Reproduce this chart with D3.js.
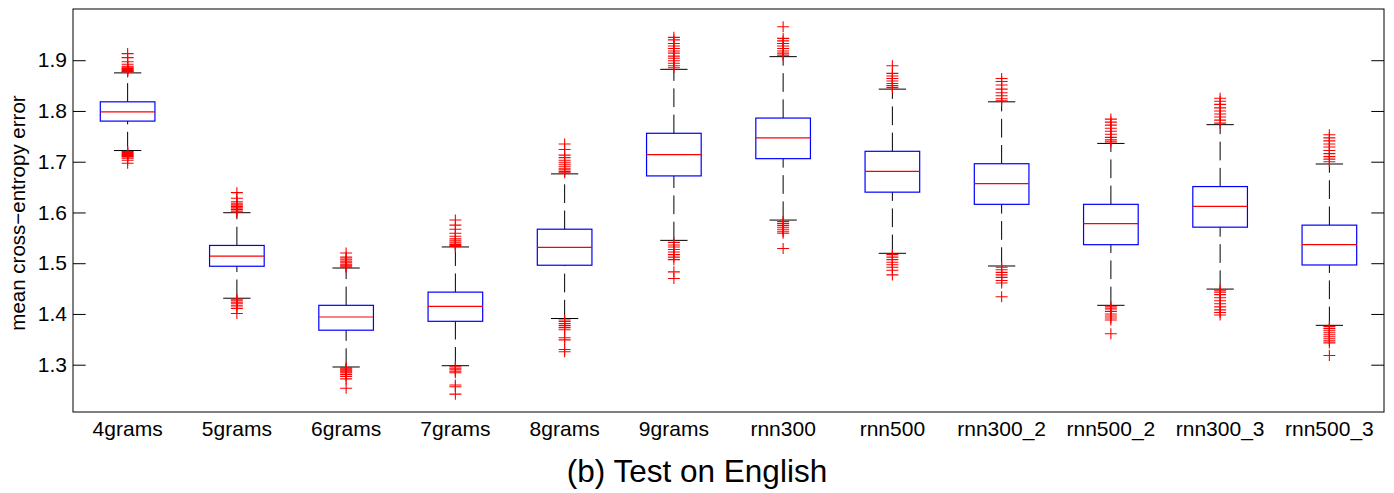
<!DOCTYPE html>
<html>
<head>
<meta charset="utf-8">
<script src="https://cdn.jsdelivr.net/npm/d3@7/dist/d3.min.js"></script>
<style>
  html, body { margin: 0; padding: 0; background: #fff; }
  svg { display: block; font-family: "Liberation Sans", Arial, Helvetica, sans-serif; }
</style>
</head>
<body>
<svg id="chart" width="1394" height="493"></svg>
<script>
// Model names along the x axis
const categories = ["4grams", "5grams", "6grams", "7grams", "8grams", "9grams",
                    "rnn300", "rnn500", "rnn300_2", "rnn500_2", "rnn300_3", "rnn500_3"];

// Box statistics (mean cross-entropy error)
const q1      = [1.780, 1.494, 1.368, 1.3855, 1.496, 1.672, 1.706, 1.640, 1.616, 1.5365, 1.571, 1.4965];
const medians = [1.798, 1.514, 1.394, 1.415, 1.531, 1.714, 1.747, 1.681, 1.657, 1.578, 1.612, 1.5365];
const q3      = [1.818, 1.535, 1.417, 1.443, 1.567, 1.756, 1.786, 1.7205, 1.696, 1.616, 1.651, 1.575];
const whiskerLow  = [1.722, 1.431, 1.2955, 1.298, 1.391, 1.545, 1.585, 1.5195, 1.4945, 1.417, 1.449, 1.3776];
const whiskerHigh = [1.875, 1.5995, 1.4905, 1.532, 1.676, 1.882, 1.907, 1.843, 1.818, 1.736, 1.773, 1.6955];

// Outlying points per model
const outliers = [
  [1.913, 1.905, 1.897, 1.892, 1.888, 1.886, 1.884, 1.882, 1.880, 1.878, 1.877,
   1.720, 1.718, 1.716, 1.714, 1.712, 1.710, 1.707, 1.703, 1.697],
  [1.639, 1.628, 1.621, 1.618, 1.615, 1.612, 1.609, 1.606, 1.603, 1.601,
   1.429, 1.426, 1.423, 1.420, 1.416, 1.411, 1.401],
  [1.520, 1.512, 1.508, 1.504, 1.501, 1.498, 1.496, 1.494, 1.492,
   1.294, 1.292, 1.290, 1.288, 1.286, 1.284, 1.281, 1.277, 1.272, 1.2535],
  [1.585, 1.575, 1.567, 1.559, 1.553, 1.548, 1.544, 1.540, 1.537, 1.535, 1.533,
   1.296, 1.293, 1.290, 1.287, 1.284, 1.260, 1.2567, 1.242],
  [1.735, 1.724, 1.713, 1.708, 1.703, 1.699, 1.695, 1.691, 1.687, 1.684, 1.681, 1.678,
   1.388, 1.385, 1.381, 1.377, 1.373, 1.369, 1.353, 1.349, 1.330, 1.3256],
  [1.945, 1.940, 1.933, 1.928, 1.923, 1.918, 1.914, 1.908, 1.904, 1.899, 1.894, 1.889, 1.885,
   1.541, 1.536, 1.532, 1.527, 1.522, 1.517, 1.512, 1.507, 1.483, 1.470],
  [1.966, 1.943, 1.938, 1.933, 1.928, 1.923, 1.918, 1.914, 1.910,
   1.582, 1.578, 1.574, 1.570, 1.566, 1.562, 1.559, 1.529],
  [1.889, 1.874, 1.869, 1.864, 1.859, 1.854, 1.850, 1.846,
   1.517, 1.512, 1.507, 1.502, 1.497, 1.492, 1.486, 1.477],
  [1.864, 1.858, 1.851, 1.843, 1.836, 1.830, 1.824, 1.820,
   1.492, 1.487, 1.482, 1.477, 1.472, 1.466, 1.461, 1.434],
  [1.784, 1.778, 1.772, 1.766, 1.760, 1.754, 1.748, 1.743, 1.739,
   1.414, 1.410, 1.405, 1.400, 1.396, 1.392, 1.388, 1.361],
  [1.825, 1.819, 1.813, 1.806, 1.800, 1.794, 1.788, 1.782, 1.776,
   1.447, 1.443, 1.438, 1.432, 1.426, 1.420, 1.414, 1.408, 1.403, 1.398],
  [1.753, 1.747, 1.741, 1.735, 1.729, 1.722, 1.716, 1.710, 1.705, 1.700,
   1.375, 1.371, 1.367, 1.363, 1.359, 1.355, 1.351, 1.347, 1.343, 1.318]
];

const yTicks = [1.3, 1.4, 1.5, 1.6, 1.7, 1.8, 1.9];
const yDomain = [1.2068, 2.0009];
const yLabel = "mean cross\u2212entropy error";
const title = "(b) Test on English";

const svg = d3.select("#chart");
const plot = { left: 73, right: 1384, top: 9, bottom: 412 };
const fontStack = "'Liberation Sans', Arial, Helvetica, sans-serif";

const x = d3.scaleBand().domain(categories).range([plot.left, plot.right]).padding(0);
const y = d3.scaleLinear().domain(yDomain).range([plot.bottom, plot.top]);

const bw = x.bandwidth();
const boxW = bw * 0.5;
const capW = bw * 0.25;
const tickLen = 12.7;

const rows = categories.map((c, i) => ({
  c, q1: q1[i], med: medians[i], q3: q3[i],
  lo: whiskerLow[i], hi: whiskerHigh[i], out: outliers[i]
}));

const cx = d => x(d.c) + bw / 2;

const g = svg.append("g");

// Whiskers: dashed lines drawn upward from the lower value
const dash = "18.7,7.5";
g.selectAll(".wlo").data(rows).join("line")
  .attr("x1", cx).attr("x2", cx)
  .attr("y1", d => y(d.lo)).attr("y2", d => y(d.q1))
  .attr("stroke", "#000").attr("stroke-width", 1).attr("stroke-dasharray", dash);
g.selectAll(".whi").data(rows).join("line")
  .attr("x1", cx).attr("x2", cx)
  .attr("y1", d => y(d.q3)).attr("y2", d => y(d.hi))
  .attr("stroke", "#000").attr("stroke-width", 1).attr("stroke-dasharray", dash);

// Whisker caps
["lo", "hi"].forEach(k => {
  g.selectAll(".cap-" + k).data(rows).join("line")
    .attr("x1", d => cx(d) - capW / 2).attr("x2", d => cx(d) + capW / 2)
    .attr("y1", d => y(d[k])).attr("y2", d => y(d[k]))
    .attr("stroke", "#000").attr("stroke-width", 1);
});

// Boxes
g.selectAll(".box").data(rows).join("rect")
  .attr("x", d => cx(d) - boxW / 2)
  .attr("width", boxW)
  .attr("y", d => y(d.q3))
  .attr("height", d => y(d.q1) - y(d.q3))
  .attr("fill", "none").attr("stroke", "#0000ff").attr("stroke-width", 1.2);

// Medians
g.selectAll(".med").data(rows).join("line")
  .attr("x1", d => cx(d) - boxW / 2).attr("x2", d => cx(d) + boxW / 2)
  .attr("y1", d => y(d.med)).attr("y2", d => y(d.med))
  .attr("stroke", "#ff0000").attr("stroke-width", 1.2);

// Outlier '+' markers
const pts = rows.flatMap(d => d.out.map(v => ({ x: cx(d), v })));
g.selectAll(".out").data(pts).join("path")
  .attr("d", p => `M${p.x - 6},${y(p.v)}H${p.x + 6}M${p.x},${y(p.v) - 5.5}V${y(p.v) + 5.5}`)
  .attr("stroke", "#ff0000").attr("stroke-width", 1.1).attr("fill", "none");

// Frame
svg.append("rect")
  .attr("x", plot.left).attr("y", plot.top)
  .attr("width", plot.right - plot.left).attr("height", plot.bottom - plot.top)
  .attr("fill", "none").attr("stroke", "#000").attr("stroke-width", 1);

// Y axis (ticks point inward) plus mirrored ticks on the right edge
const yAxisL = d3.axisLeft(y).tickValues(yTicks).tickSize(-tickLen).tickPadding(6)
  .tickFormat(d3.format(".1f"));
const axL = svg.append("g").attr("transform", `translate(${plot.left},0)`).call(yAxisL);
axL.select(".domain").remove();
axL.selectAll("text").attr("font-size", 21).attr("fill", "#000").attr("font-family", fontStack);
axL.selectAll("line").attr("stroke", "#000");

const yAxisR = d3.axisRight(y).tickValues(yTicks).tickSize(-tickLen).tickFormat("");
const axR = svg.append("g").attr("transform", `translate(${plot.right},0)`).call(yAxisR);
axR.select(".domain").remove();
axR.selectAll("line").attr("stroke", "#000");

// X axis labels
const xAxis = d3.axisBottom(x).tickSize(0).tickPadding(9);
const axB = svg.append("g").attr("transform", `translate(0,${plot.bottom})`).call(xAxis);
axB.select(".domain").remove();
axB.selectAll("text").attr("font-size", 21).attr("fill", "#000").attr("font-family", fontStack);

// Y axis title
svg.append("text")
  .attr("transform", "translate(25,213) rotate(-90)")
  .attr("text-anchor", "middle")
  .attr("font-size", 20.5)
  .attr("fill", "#000")
  .text(yLabel);

// Caption
svg.append("text")
  .attr("x", 697).attr("y", 482)
  .attr("text-anchor", "middle")
  .attr("font-size", 31.5)
  .attr("fill", "#000")
  .text(title);
</script>
</body>
</html>
